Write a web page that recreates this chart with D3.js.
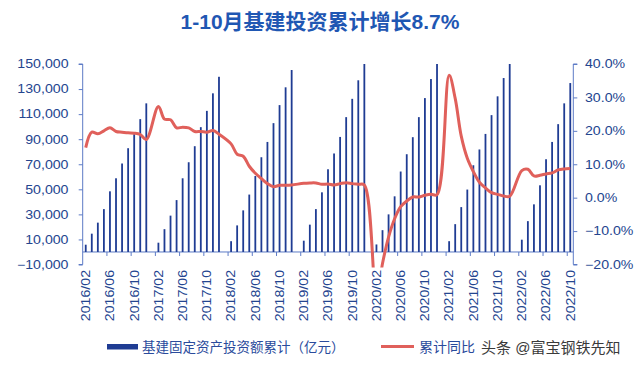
<html>
<head>
<meta charset="utf-8">
<title>1-10月基建投资累计增长8.7%</title>
<script src="https://d3js.org/d3.v7.min.js"></script>
<style>
body { margin: 0; background: #fff; }
text { font-family: "Liberation Sans", Arial, "Noto Sans CJK SC", sans-serif; }
</style>
</head>
<body>
<div id="chart"></div>
<script>
// months shown per year (Jan is merged into Feb, so Jan slots stay empty)
var years = [2016, 2017, 2018, 2019, 2020, 2021, 2022];
var months = ["02", "03", "04", "05", "06", "07", "08", "09", "10", "11", "12"];

// 基建固定资产投资额累计 (亿元)
var inv2016 = [5800, 14600, 23400, 34200, 48400, 58800, 70600, 82800, 94000, 106000, 118600];
var inv2017 = [7400, 18200, 29000, 41400, 58800, 71600, 84400, 99600, 112600, 126600, 139800];
var inv2018 = [8600, 21200, 33200, 45800, 60600, 75600, 87800, 102800, 117200, 131400, 145200];
var inv2019 = [9000, 21800, 34200, 47600, 66000, 78600, 91800, 107600, 122200, 137000, 150500];
var inv2020 = [6000, 17400, 30000, 44400, 64200, 78000, 91600, 107600, 122800, 138000, 150800];
var inv2021 = [8600, 22200, 35800, 49800, 69200, 81800, 94200, 109200, 124200, 138800, 150500];
var inv2022 = [9800, 24600, 38000, 53200, 74000, 87800, 102000, 118600, 134800];

// 累计同比 (%)
var yoy2016 = [15.0, 19.6, 19.1, 20.0, 20.9, 19.8, 19.6, 19.4, 19.3, 18.9, 17.4];
var yoy2017 = [27.3, 23.5, 23.3, 20.9, 21.1, 20.9, 19.8, 19.8, 19.6, 20.1, 19.0];
var yoy2018 = [16.1, 13.0, 12.4, 9.4, 7.3, 5.7, 4.2, 3.3, 3.7, 3.7, 3.8];
var yoy2019 = [4.3, 4.4, 4.4, 4.0, 4.1, 3.8, 4.2, 4.5, 4.2, 4.0, 3.8];
var yoy2020 = [-30.3, -19.7, -11.8, -6.3, -2.7, -1.0, 0.2, 0.2, 0.7, 1.0, 0.9];
var yoy2021 = [36.6, 29.7, 18.4, 11.8, 7.8, 4.6, 2.9, 1.5, 1.0, 0.5, 0.4];
var yoy2022 = [8.1, 8.5, 6.5, 6.7, 7.1, 7.4, 8.3, 8.6, 8.7];

var invest = [inv2016, inv2017, inv2018, inv2019, inv2020, inv2021, inv2022];
var yoy = [yoy2016, yoy2017, yoy2018, yoy2019, yoy2020, yoy2021, yoy2022];

var leftTicks = [-10000, 10000, 30000, 50000, 70000, 90000, 110000, 130000, 150000];
var rightTicks = [-20, -10, 0, 10, 20, 30, 40];

// category slots: every month from 2016/02 to 2022/10 (Jan included, empty)
var slots = [];
years.forEach(function(y) {
    for (var m = 1; m <= 12; m++) {
        if ((y == 2016 && m < 2) || (y == 2022 && m > 10)) continue;
        slots.push(y + "/" + (m < 10 ? "0" : "") + m);
    }
});

var data = [];
years.forEach(function(y, i) {
    invest[i].forEach(function(v, j) {
        data.push({ key: y + "/" + months[j], inv: v, yoy: yoy[i][j] });
    });
});

var width = 640, height = 368;
var navy = "#1f3c93", red = "#e0605b", axisCol = "#5d7bc6", textCol = "#24458f";
var sx = 1.18; // the source font runs wide

var x = d3.scaleBand().domain(slots).range([82.7, 573.3]);
var yL = d3.scaleLinear().domain([-10000, 150000]).range([264.5, 64]).clamp(true);
var yR = d3.scaleLinear().domain([-20, 40]).range([264.5, 64]);

var svg = d3.select("#chart").append("svg")
    .attr("width", width)
    .attr("height", height);

// title
svg.append("text")
    .attr("x", 320)
    .attr("y", 21)
    .attr("text-anchor", "middle")
    .attr("dominant-baseline", "central")
    .attr("font-weight", "bold")
    .style("font-size", "21px")
    .style("fill", "#1f57b3")
    .text("1-10月基建投资累计增长8.7%");

// left axis
var leftAxis = svg.append("g")
    .attr("transform", "translate(82.7,0)")
    .call(d3.axisLeft(yL).tickValues(leftTicks).tickSize(4).tickFormat(""));
leftAxis.select(".domain").attr("stroke", axisCol).attr("d", "M-4," + yL(-10000) + "H0V" + yL(150000) + "H-4");
leftAxis.selectAll(".tick line").attr("stroke", axisCol);
leftTicks.forEach(function(t) {
    svg.append("text")
        .attr("transform", "translate(68.5," + yL(t) + ") scale(" + sx + ",1)")
        .attr("text-anchor", "end")
        .attr("dy", "0.36em")
        .style("font-size", "12px")
        .style("fill", textCol)
        .text(d3.format(",")(t));
});

// right axis
var rightAxis = svg.append("g")
    .attr("transform", "translate(573.3,0)")
    .call(d3.axisRight(yR).tickValues(rightTicks).tickSize(4).tickFormat(""));
rightAxis.select(".domain").attr("stroke", axisCol).attr("d", "M4," + yR(-20) + "H0V" + yR(40) + "H4");
rightAxis.selectAll(".tick line").attr("stroke", axisCol);
rightTicks.forEach(function(t) {
    svg.append("text")
        .attr("transform", "translate(585," + yR(t) + ") scale(" + sx + ",1)")
        .attr("dy", "0.36em")
        .style("font-size", "12px")
        .style("fill", textCol)
        .text(d3.format(".1f")(t) + "%");
});

// category axis along the zero line, ticks every 4 slots
svg.append("line")
    .attr("x1", x.range()[0]).attr("x2", x.range()[1])
    .attr("y1", yL(0)).attr("y2", yL(0))
    .attr("stroke", axisCol);
var every4 = slots.filter(function(d, i) { return i % 4 == 0; });
svg.selectAll(".xtick").data(every4.slice(1)).enter().append("line")
    .attr("class", "xtick")
    .attr("x1", function(d) { return x(d); }).attr("x2", function(d) { return x(d); })
    .attr("y1", yL(0)).attr("y2", yL(0) + 4)
    .attr("stroke", axisCol);
svg.selectAll(".xlab").data(every4).enter().append("text")
    .attr("class", "xlab")
    .attr("transform", function(d) {
        return "translate(" + (x(d) + x.bandwidth() / 2) + ",270) rotate(-90) scale(" + sx + ",1)";
    })
    .attr("text-anchor", "end")
    .attr("dy", "0.36em")
    .style("font-size", "12px")
    .style("fill", textCol)
    .text(function(d) { return d; });

// bars
svg.selectAll(".bar").data(data).enter().append("rect")
    .attr("class", "bar")
    .attr("x", function(d) { return x(d.key) + x.bandwidth() / 2 - 0.9; })
    .attr("width", 1.8)
    .attr("y", function(d) { return yL(d.inv); })
    .attr("height", function(d) { return yL(0) - yL(d.inv); })
    .attr("fill", navy);

// growth line, clipped to the plot area
svg.append("clipPath").attr("id", "plot")
    .append("rect").attr("x", 80).attr("y", 55).attr("width", 500).attr("height", 212.5);
var line = d3.line()
    .x(function(d) { return x(d.key) + x.bandwidth() / 2; })
    .y(function(d) { return yR(d.yoy); })
    .curve(d3.curveCatmullRom.alpha(0.5));
svg.append("path")
    .datum(data)
    .attr("clip-path", "url(#plot)")
    .attr("d", line)
    .attr("fill", "none")
    .attr("stroke", red)
    .attr("stroke-width", 3)
    .attr("stroke-linejoin", "round");

// legend
svg.append("rect").attr("x", 107).attr("y", 344).attr("width", 31).attr("height", 5.5).attr("fill", navy);
svg.append("text")
    .attr("x", 142).attr("y", 347)
    .attr("dominant-baseline", "central")
    .style("font-size", "13.5px")
    .style("fill", "#2a4b9c")
    .text("基建固定资产投资额累计（亿元）");
svg.append("line").attr("x1", 381).attr("x2", 414).attr("y1", 346.5).attr("y2", 346.5)
    .attr("stroke", red).attr("stroke-width", 3);
svg.append("text")
    .attr("x", 419).attr("y", 347)
    .attr("dominant-baseline", "central")
    .style("font-size", "14px")
    .style("fill", "#2a4b9c")
    .text("累计同比");
svg.append("text")
    .attr("x", 481).attr("y", 347)
    .attr("dominant-baseline", "central")
    .style("font-size", "15px")
    .style("fill", "#3a3a3a")
    .text("头条 @富宝钢铁先知");
</script>
</body>
</html>
